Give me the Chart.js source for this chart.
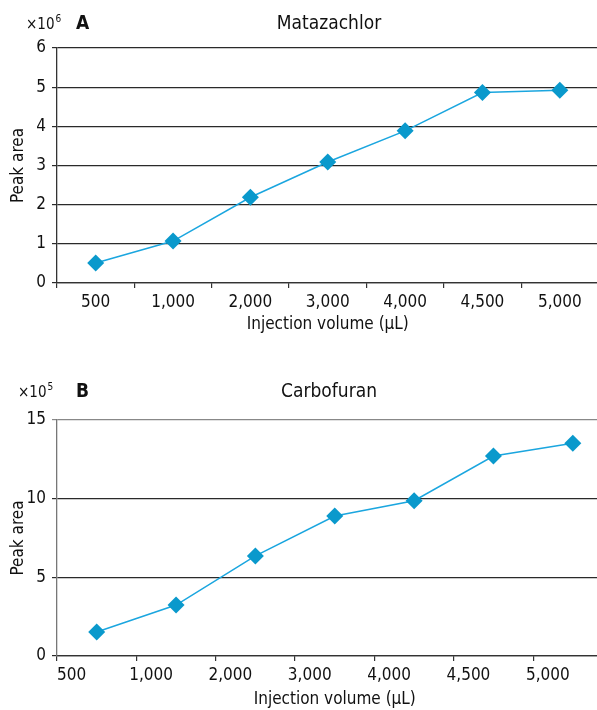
<!DOCTYPE html>
<html>
<head>
<meta charset="utf-8">
<script src="https://cdn.jsdelivr.net/npm/chart.js@4"></script>
<style>
  html, body { margin: 0; padding: 0; background: #fff; overflow: hidden; }
  body { width: 597px; height: 710px; position: relative; }
  .box { position: absolute; left: 0; overflow: hidden; }
  #boxA { top: 0; width: 597px; height: 345px; }
  #boxB { top: 368px; width: 597px; height: 342px; }
</style>
</head>
<body>
<div class="box" id="boxA"><canvas id="chartA" width="607" height="345"></canvas></div>
<div class="box" id="boxB"><canvas id="chartB" width="621" height="355"></canvas></div>
<script>
const categories = ["500", "1,000", "2,000", "3,000", "4,000", "4,500", "5,000"];
const matazachlorArea = [0.51, 1.07, 2.19, 3.09, 3.885, 4.865, 4.92];   // x10^6
const carbofuranArea = [1.53, 3.24, 6.36, 8.9, 9.87, 12.71, 13.52];     // x10^5
const yTicksA = [0, 1, 2, 3, 4, 5, 6];
const yTicksB = [0, 5, 10, 15];

const FONT = "'Liberation Sans Narrow', 'DejaVu Sans Condensed', 'Arial Narrow', sans-serif";
const MARKER = "#0a99cc";
const LINE = "#1ba6df";

// header: "x10^n", panel letter, compound name
const headerPlugin = {
    id: "header",
    afterDraw(chart, args, opts) {
        const ctx = chart.ctx;
        ctx.save();
        ctx.fillStyle = "#111";
        ctx.textBaseline = "alphabetic";
        ctx.textAlign = "left";
        ctx.font = "15px " + FONT;
        ctx.fillText("×10", opts.expX, opts.y);
        const w = ctx.measureText("×10").width;
        ctx.font = "10px " + FONT;
        ctx.fillText(opts.exp, opts.expX + w + 1, opts.y - 7);
        ctx.font = "bold 19px " + FONT;
        ctx.fillText(opts.letter, 76, opts.y);
        ctx.font = "19px " + FONT;
        ctx.textAlign = "center";
        ctx.fillText(opts.name, 329, opts.y);
        ctx.restore();
    }
};

function makeChart(id, values, yTicks, yMax, header, gridColor, axisColor, labelOffset, xHeight) {
    const ctx = document.getElementById(id).getContext("2d");
    return new Chart(ctx, {
        type: "line",
        data: {
            labels: categories,
            datasets: [{
                data: values,
                borderColor: LINE,
                borderWidth: 1.5,
                backgroundColor: MARKER,
                pointBackgroundColor: MARKER,
                pointBorderColor: MARKER,
                pointStyle: "rectRot",
                pointRadius: 8.5,
                pointBorderWidth: 0,
                tension: 0,
                fill: false,
            }],
        },
        options: {
            responsive: false,
            animation: false,
            events: [],
            layout: { padding: { top: header.top, right: 2, left: 0, bottom: 0 } },
            plugins: {
                legend: { display: false },
                tooltip: { enabled: false },
                header: header,
            },
            scales: {
                x: {
                    type: "category",
                    offset: true,
                    border: { color: "#333", width: 1.3 },
                    grid: { offset: true, drawOnChartArea: false, tickLength: 5, color: "#333", lineWidth: 1.2 },
                    ticks: { color: "#111", font: { family: FONT, size: 17 }, padding: 4, maxRotation: 0, labelOffset: labelOffset },
                    title: { display: true, text: "Injection volume (µL)", color: "#111", font: { family: FONT, size: 17 }, padding: { top: 0, bottom: xHeight.titlePad } },
                    afterFit(scale) { scale.height = xHeight.h; },
                },
                y: {
                    min: 0,
                    max: yMax,
                    border: { color: axisColor, width: 1.3 },
                    grid: { color: gridColor, lineWidth: 1.2, tickLength: 5 },
                    afterBuildTicks(scale) { scale.ticks = yTicks.map(v => ({ value: v })); },
                    ticks: { color: "#111", font: { family: FONT, size: 17 }, padding: 6 },
                    title: { display: true, text: "Peak area", color: "#111", font: { family: FONT, size: 17 }, padding: { top: 8, bottom: 0 } },
                    afterFit(scale) { scale.width = 57; },
                },
            },
        },
        plugins: [headerPlugin],
    });
}

makeChart("chartA", matazachlorArea, yTicksA, 6,
    { expX: 26, y: 29, exp: "6", letter: "A", name: "Matazachlor", top: 48 },
    "#2a2a2a", "#333", 0, { h: 62, titlePad: 10 });

makeChart("chartB", carbofuranArea, yTicksB, 15,
    { expX: 18, y: 29, exp: "5", letter: "B", name: "Carbofuran", top: 52 },
    (c) => c.tick && c.tick.value === 15 ? "#888" : "#2a2a2a", "#777", -25, { h: 67, titlePad: 13 });
</script>
</body>
</html>
